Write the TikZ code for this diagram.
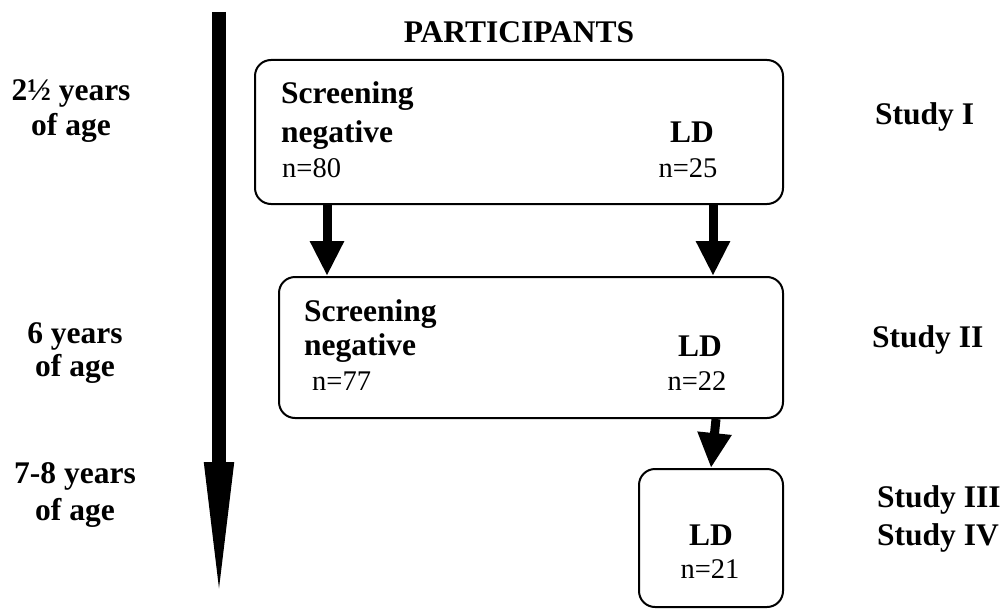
\documentclass[tikz,border=0pt]{standalone}
\usepackage{fontspec}
\setmainfont{Liberation Serif}
\usetikzlibrary{arrows.meta,positioning}

\tikzset{
  group/.style={draw,line width=2pt,rounded corners=16pt,inner sep=0pt},
  lbl/.style={font=\fontsize{31.5}{34}\selectfont\bfseries,inner sep=0pt},
  cnt/.style={font=\fontsize{28.5}{33}\selectfont,inner sep=0pt},
  flow/.style={line width=9pt,-{Triangle[length=35pt,width=32pt]}},
}

\begin{document}
\begin{tikzpicture}[x=1pt,y=-1pt]
  \useasboundingbox (0,0) rectangle (1003,610);
  % time axis
  \coordinate (t_0) at (219,12);
  \coordinate (t_1) at (219,610);
  \draw[line width=14pt,-{Triangle[length=148pt,width=26pt]}] (t_0) -- (t_1);

  \node[lbl,anchor=base] (head) at (519,43) {PARTICIPANTS};

  % groups
  \node[group,minimum width=528pt,minimum height=144pt] (b_1) at (519,132) {};
  \node[group,minimum width=504pt,minimum height=141pt] (b_2) at (531,347.5) {};
  \node[group,minimum width=144pt,minimum height=138pt] (b_3) at (711,538) {};

  \node[lbl,anchor=base west] (s_1)   at (281,103) {Screening};
  \node[lbl,anchor=base west] (neg_1) at (281,142) {negative};
  \node[cnt,anchor=base west] (n_1)   at (282,177) {n=80};
  \node[lbl,anchor=base]      (ld_1)  at (692,142) {LD};
  \node[cnt,anchor=base]      (nl_1)  at (688,177) {n=25};

  \node[lbl,anchor=base west] (s_2)   at (304,321) {Screening};
  \node[lbl,anchor=base west] (neg_2) at (304,355) {negative};
  \node[cnt,anchor=base west] (n_2)   at (312,390) {n=77};
  \node[lbl,anchor=base]      (ld_2)  at (700,356) {LD};
  \node[cnt,anchor=base]      (nl_2)  at (697,390) {n=22};

  \node[lbl,anchor=base]      (ld_3)  at (711,545) {LD};
  \node[cnt,anchor=base]      (nl_3)  at (710,578) {n=21};

  % ages
  \node[lbl,anchor=base] (a_1)  at (71,100) {2½ years};
  \node[lbl,anchor=base] (ao_1) at (71,135) {of age};
  \node[lbl,anchor=base] (a_2)  at (75,343) {6 years};
  \node[lbl,anchor=base] (ao_2) at (75,376) {of age};
  \node[lbl,anchor=base] (a_3)  at (75,483) {7-8 years};
  \node[lbl,anchor=base] (ao_3) at (75,520) {of age};

  % studies
  \node[lbl,anchor=base west] (st_1) at (875,124) {Study I};
  \node[lbl,anchor=base west] (st_2) at (872,347) {Study II};
  \node[lbl,anchor=base west] (st_3) at (877,507) {Study III};
  \node[lbl,anchor=base west] (st_4) at (877,545) {Study IV};

  \draw[flow] ([xshift=73pt]b_1.south west) -- ([xshift=49pt]b_2.north west);
  \draw[flow] ([xshift=-71pt]b_1.south east) -- ([xshift=-71pt]b_2.north east);
  \draw[flow] ([xshift=-68pt]b_2.south east) -- (b_3.north);
\end{tikzpicture}
\end{document}
